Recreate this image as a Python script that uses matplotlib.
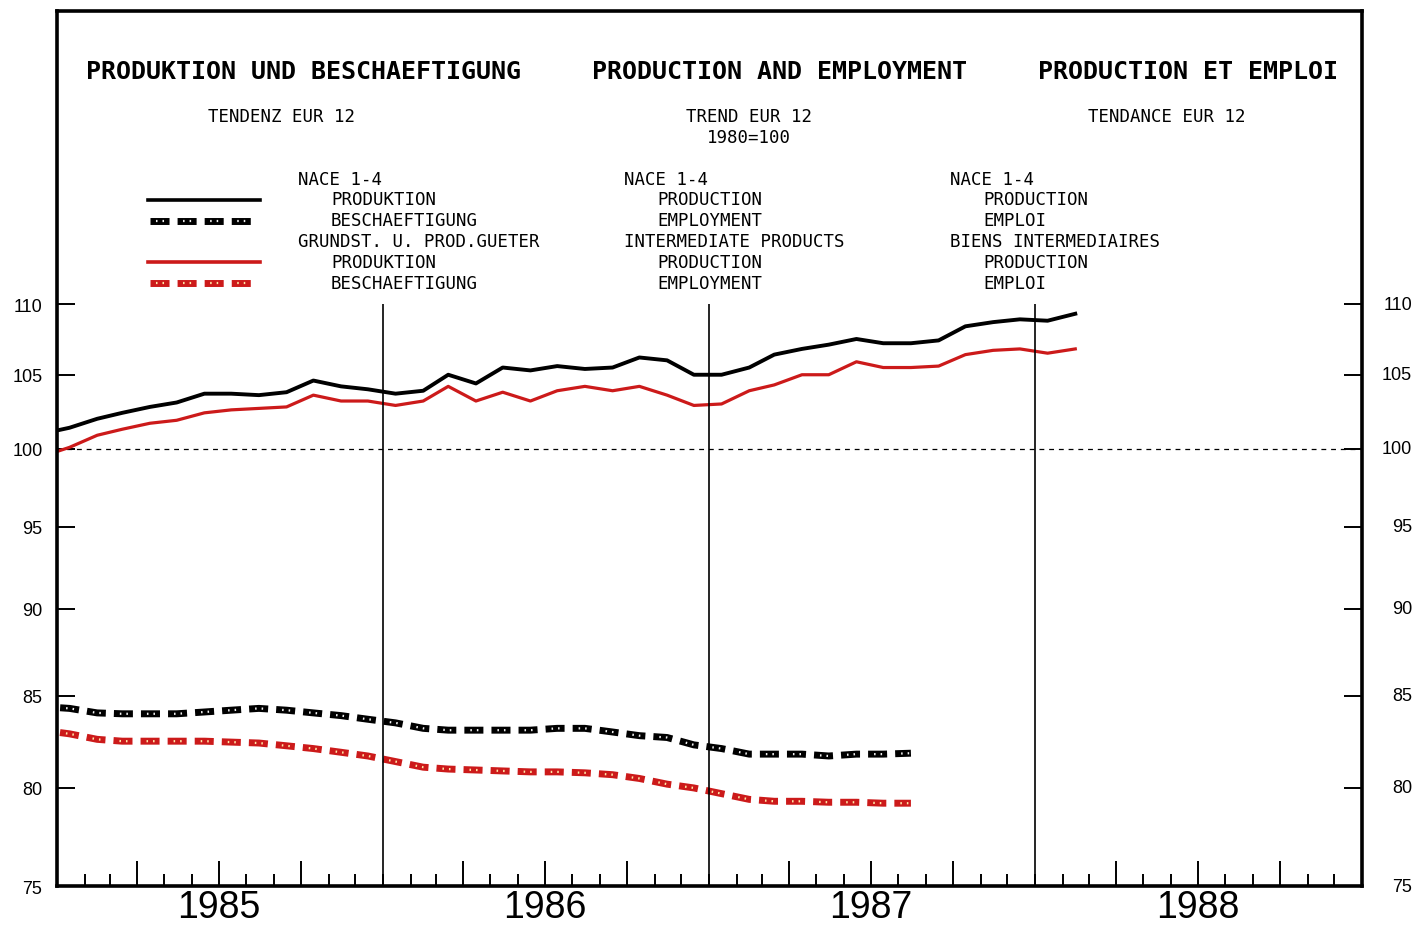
"""Production and employment trend, EUR 12 (1980=100), monthly on a log scale."""

import matplotlib

matplotlib.use("Agg")

import matplotlib.dates as mdates
import matplotlib.pyplot as plt
import pandas as pd
from matplotlib.ticker import FixedFormatter, FixedLocator, NullLocator

plt.rcParams["lines.scale_dashes"] = False

WIDTH, HEIGHT = 1414, 928
RED = "#cc1a1a"
MONO = "DejaVu Sans Mono"
SANS = "Liberation Sans"

# monthly series, first value = December 1984
first_month = "1984-12"

production_nace = [
    101.0, 101.4, 102.0, 102.4, 102.8, 103.1, 103.7, 103.7, 103.6, 103.8,
    104.6, 104.2, 104.0, 103.7, 103.9, 105.0, 104.4, 105.5, 105.3, 105.6,
    105.4, 105.5, 106.2, 106.0, 105.0, 105.0, 105.5, 106.4, 106.8, 107.1,
    107.5, 107.2, 107.2, 107.4, 108.4, 108.7, 108.9, 108.8, 109.3,
]
production_intermediate = [
    99.5, 100.1, 100.9, 101.3, 101.7, 101.9, 102.4, 102.6, 102.7, 102.8,
    103.6, 103.2, 103.2, 102.9, 103.2, 104.2, 103.2, 103.8, 103.2, 103.9,
    104.2, 103.9, 104.2, 103.6, 102.9, 103.0, 103.9, 104.3, 105.0, 105.0,
    105.9, 105.5, 105.5, 105.6, 106.4, 106.7, 106.8, 106.5, 106.8,
]
employment_nace = [
    84.4, 84.3, 84.05, 84.0, 84.0, 84.0, 84.1, 84.2, 84.3, 84.2,
    84.05, 83.9, 83.7, 83.5, 83.2, 83.1, 83.1, 83.1, 83.1, 83.2,
    83.2, 83.0, 82.8, 82.7, 82.3, 82.1, 81.8, 81.8, 81.8, 81.7,
    81.8, 81.8, 81.85,
]
employment_intermediate = [
    83.1, 82.9, 82.6, 82.5, 82.5, 82.5, 82.5, 82.45, 82.4, 82.25,
    82.1, 81.9, 81.7, 81.4, 81.1, 81.0, 80.95, 80.9, 80.85, 80.85,
    80.8, 80.7, 80.5, 80.2, 80.0, 79.7, 79.4, 79.3, 79.3, 79.25,
    79.25, 79.2, 79.2,
]

y_ticks = [75, 80, 85, 90, 95, 100, 105, 110]
years = ["1985", "1986", "1987", "1988"]

titles = [
    "PRODUKTION UND BESCHAEFTIGUNG",
    "PRODUCTION AND EMPLOYMENT",
    "PRODUCTION ET EMPLOI",
]
subtitles = [
    ["TENDENZ EUR 12"],
    ["TREND EUR 12", "1980=100"],
    ["TENDANCE EUR 12"],
]
legend_texts = [
    ["NACE 1-4", "PRODUKTION", "BESCHAEFTIGUNG",
     "GRUNDST. U. PROD.GUETER", "PRODUKTION", "BESCHAEFTIGUNG"],
    ["NACE 1-4", "PRODUCTION", "EMPLOYMENT",
     "INTERMEDIATE PRODUCTS", "PRODUCTION", "EMPLOYMENT"],
    ["NACE 1-4", "PRODUCTION", "EMPLOI",
     "BIENS INTERMEDIAIRES", "PRODUCTION", "EMPLOI"],
]


def fx(px):
    return px / WIDTH


def fy(py):
    return 1 - py / HEIGHT


def mid_months(count):
    return pd.date_range(first_month, periods=count, freq="MS") + pd.Timedelta(days=14)


def dotted(ax, x, y, color, dot_color, offset=6.3, **kwargs):
    """Thick dashes with two light specks inside, like the plotter pattern."""
    ax.plot(x, y, color=color, lw=5, linestyle=(offset, (13.7, 5.8)),
            solid_capstyle="butt", **kwargs)
    ax.plot(x, y, color=dot_color, lw=1.6,
            linestyle=(offset - 4.3, (1.1, 3.6, 1.1, 13.7)), **kwargs)


fig = plt.figure(figsize=(WIDTH / 100, HEIGHT / 100), dpi=100)
ax = fig.add_axes([fx(57), fy(887), fx(1305), 875 / HEIGHT])

ax.set_yscale("log")
ax.set_ylim(75, 133.4)
ax.set_xlim(mdates.date2num(pd.Timestamp("1985-01-01")),
            mdates.date2num(pd.Timestamp("1989-01-01")))

x_prod = mdates.date2num(mid_months(len(production_nace)))
x_empl = mdates.date2num(mid_months(len(employment_nace)))

ax.axhline(100, color="black", lw=0.9, linestyle=(0, (3.5, 3.5)))

ax.plot(x_prod, production_nace, color="black", lw=2.8)
ax.plot(x_prod, production_intermediate, color=RED, lw=2.3)
dotted(ax, x_empl, employment_nace, "black", "#f2f2f2")
dotted(ax, x_empl, employment_intermediate, RED, "#ffe9a8")

year_starts = [mdates.date2num(pd.Timestamp(f"{int(y) + 1}-01-01")) for y in years[:-1]]
ax.vlines(year_starts, 75, 110, colors="black", lw=1.2, zorder=3)

# legend samples drawn by hand, left of the first text column
sample_x = [(148 - 57) / 1305, (260 - 57) / 1305]
for row_px, color, kind in [(201, "black", "solid"), (222, "black", "dots"),
                            (263, RED, "solid"), (284, RED, "dots")]:
    sample_y = [(887 - row_px) / 875] * 2
    if kind == "solid":
        ax.plot(sample_x, sample_y, color=color, lw=2.6, transform=ax.transAxes)
    else:
        dot_color = "#f2f2f2" if color == "black" else "#ffe9a8"
        dotted(ax, [(150 - 57) / 1305, (257 - 57) / 1305], sample_y, color,
               dot_color, offset=0.0, transform=ax.transAxes)

# axes styling
for spine in ax.spines.values():
    spine.set_linewidth(2.6)

ax.xaxis.set_major_locator(mdates.MonthLocator(bymonth=[4, 7, 10]))
ax.xaxis.set_minor_locator(mdates.MonthLocator())
ax.tick_params(axis="x", which="major", direction="in", length=18, width=1.4,
               labelbottom=False)
ax.tick_params(axis="x", which="minor", direction="in", length=8.5, width=1.4)

ax.yaxis.set_major_locator(FixedLocator(y_ticks))
ax.yaxis.set_major_formatter(FixedFormatter([str(v) for v in y_ticks]))
ax.yaxis.set_minor_locator(NullLocator())
ax.tick_params(axis="y", which="major", direction="in", length=13, width=1.4,
               left=True, right=True, labelleft=True, labelright=False,
               labelsize=13, pad=10.5, labelfontfamily=SANS)

for value in y_ticks:
    ax.text((1412 - 57) / 1305, value, str(value), transform=ax.get_yaxis_transform(),
            ha="right", va="center", fontsize=13, family=SANS)

for year in years:
    ax.text(mdates.date2num(pd.Timestamp(f"{year}-07-01")), (887 - 926) / 875, year,
            transform=ax.get_xaxis_transform(), ha="center", va="bottom",
            fontsize=27, family=SANS)

# header texts
title_centers = [304, 780, 1188]
subtitle_centers = [282, 749, 1167]
for center, title in zip(title_centers, titles):
    fig.text(fx(center), fy(72), title, ha="center", va="center",
             fontsize=18, fontweight="bold", family=MONO)
for center, lines in zip(subtitle_centers, subtitles):
    for i, line in enumerate(lines):
        fig.text(fx(center), fy(117 + 21 * i), line, ha="center", va="center",
                 fontsize=12.5, family=MONO)

column_lefts = [298, 624, 950]
row_tops = [180, 200, 221, 242, 263, 284]
for left, texts in zip(column_lefts, legend_texts):
    for i, (row, text) in enumerate(zip(row_tops, texts)):
        indent = 0 if i in (0, 3) else 33
        fig.text(fx(left + indent), fy(row), text, ha="left", va="center",
                 fontsize=12.5, family=MONO)

fig.savefig("out.png", dpi=100)
